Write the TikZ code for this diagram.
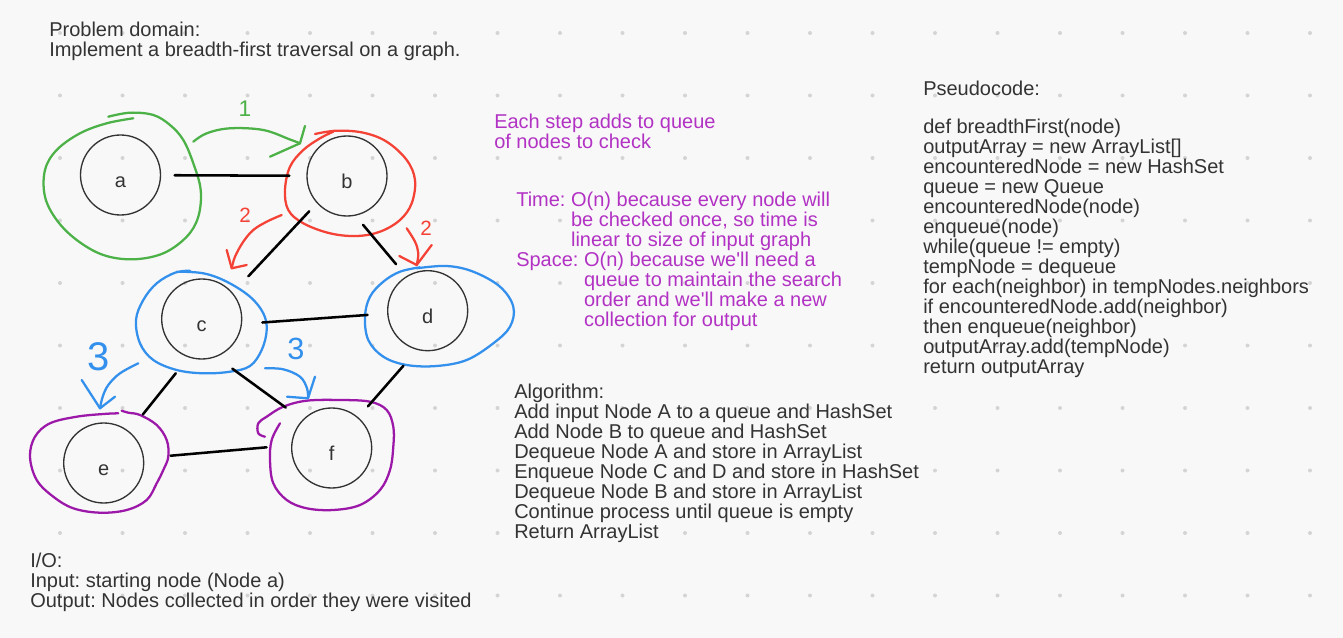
\documentclass[tikz,border=0pt]{standalone}
\usepackage{fontspec}
\setmainfont{Liberation Sans}[Ligatures=TeXOff]
\frenchspacing
\definecolor{bgc}{RGB}{248,248,248}
\definecolor{dotc}{RGB}{212,212,212}
\definecolor{ink}{RGB}{51,51,51}
\definecolor{ptext}{RGB}{178,50,196}
\definecolor{hgreen}{RGB}{76,178,72}
\definecolor{hred}{RGB}{244,67,54}
\definecolor{hblue}{RGB}{51,144,236}
\definecolor{hpurple}{RGB}{156,24,168}
\begin{document}
\begin{tikzpicture}[x=0.75pt,y=-0.75pt,
  txt/.style={anchor=north west, inner sep=0pt, align=left, text=ink, font=\fontsize{15}{15}\selectfont},
  ptxt/.style={txt, text=ptext},
  vert/.style={circle, draw=ink, line width=1pt, minimum size=60pt, inner sep=0pt, text=ink,
    font=\fontsize{15}{15}\selectfont, text height=18.75pt, text depth=0pt},
  conn/.style={draw=black, line width=1.9pt, line cap=round},
  hand/.style={line width=1.7pt, line cap=round, line join=round},
  digit/.style={inner sep=0pt}]
\fill[bgc] (0,0) rectangle (1343,638);
\useasboundingbox (0,0) rectangle (1343,638);
% dotted grid
\foreach \i in {0,...,21}{
  \foreach \j in {0,...,9}{
    \fill[dotc] ({-2.5+62.5*\i},{33+62.5*\j}) circle[radius=1.5pt];
  }
}
% hand-drawn loops
\draw[hand, hgreen] plot[smooth, tension=0.6] coordinates {(108.3,116.7) (130,112.7) (153.3,115) (170,125) (183.3,140) (193.3,163.3) (200.7,190) (198.3,216.7) (186.7,236.7) (163.3,253.3) (133.3,259.3) (103.3,255) (76.7,240) (56.7,220) (45,196.7) (45,170) (56.7,150) (80,133.3) (106.7,123.3) (133.3,118.3)};
\draw[hand, hred] plot[smooth, tension=0.6] coordinates {(315,134) (336.7,130.7) (363.3,132.7) (386.7,141.7) (406.7,160) (415,180) (411.7,203.3) (400,220) (380,231.7) (356.7,236) (330,233.3) (303.3,223.3) (288.3,210) (285,190) (290,166.7) (303.3,150) (320,138.3) (333.3,131.7)};
\draw[hand, hblue] plot[smooth, tension=0.6] coordinates {(176.7,271.7) (203.3,273.3) (226.7,281.7) (250,296.7) (263.3,313.3) (266.7,330) (261.7,350) (250,366) (230,371.7) (203.3,373.3) (176.7,370) (153.3,360) (140,343.3) (136,320) (143.3,300) (156.7,283.3) (175,272.7) (190,270.7)};
\draw[hand, hblue] plot[smooth, tension=0.6] coordinates {(416.7,268.3) (446.7,266) (473.3,271.7) (500,286.7) (513.3,306.7) (510,326.7) (493.3,343.3) (466.7,360) (436.7,366) (406.7,365) (383.3,356.7) (368.3,340) (365,316.7) (370,296.7) (383.3,281.7) (400,271.7) (420,267.3)};
\draw[hand, hpurple] plot[smooth, tension=0.6] coordinates {(121.7,410.7) (128.3,412.7) (140,415) (156.7,425) (166.7,440) (168.3,456.7) (163.3,470) (156.7,483.3) (146.7,500) (126.7,510) (100,512.7) (73.3,508.3) (53.3,496.7) (36.7,480) (30,456.7) (35,436.7) (50,423.3) (76.7,416.7) (103.3,414) (118.3,413.3)};
\draw[hand, hpurple] plot[smooth, tension=0.6] coordinates {(265,436.7) (258.3,433.3) (258.3,423.3) (266.7,416.7) (283.3,406.7) (306.7,400.7) (340,400) (370,401.7) (386.7,410) (393.3,426.7) (393.3,446.7) (390,470) (380,490) (360,505) (333.3,510) (306.7,508.3) (286.7,500) (273.3,483.3) (270,460) (271.7,440) (280,423.3)};
% graph nodes
\node[vert] (a) at (120.5,175) {a};
\node[vert] (b) at (347,176) {b};
\node[vert] (c) at (201.7,319) {c};
\node[vert] (d) at (427.7,310.7) {d};
\node[vert] (e) at (103.7,463) {e};
\node[vert] (f) at (331.7,448) {f};
% edges
\draw[conn, shorten <=10.1pt, shorten >=12.75pt] (a) -- (b);
\draw[conn, shorten <=8.2pt, shorten >=17pt] (b.222.6) -- (c.40.3);
\draw[conn, shorten <=8.9pt, shorten >=11.8pt] (b.-78.7) -- (d.122.9);
\draw[conn, shorten <=15.3pt, shorten >=14.7pt] (c.-7.5) -- (d.184.2);
\draw[conn, shorten <=15.2pt, shorten >=16.2pt] (c.-109.1) -- (e.51.1);
\draw[conn, shorten <=14.9pt, shorten >=15.5pt] (c.-69.5) -- (f.136.6);
\draw[conn, shorten <=15.7pt, shorten >=10.9pt] (d.-105.7) -- (f.49.3);
\draw[conn, shorten <=20pt, shorten >=18.5pt] (e.7.2) -- (f.176);
% traversal arrows
\coordinate (t1) at (300,143.3);
\coordinate (t2) at (231.7,268.3);
\coordinate (t3) at (416.7,265);
\coordinate (t4) at (100,408.3);
\coordinate (t5) at (308,398.3);
\draw[hand, hgreen] plot[smooth, tension=0.6] coordinates {(193.3,141.7) (206.7,133.3) (230,128.3) (263.3,130) (290,139.5) (300,143.3)};
\draw[hand, hgreen] (305,126) -- (t1) -- (270,156.7);
\draw[hand, hred] plot[smooth, tension=0.6] coordinates {(281.7,215) (266.7,221.7) (253.3,230) (243.3,241.7) (235,256.7) (231.7,268.3)};
\draw[hand, hred] (226.7,250) -- (t2) -- (246.7,265);
\draw[hand, hred] plot[smooth, tension=0.6] coordinates {(406.7,228.3) (415,241.7) (418.3,253.3) (416.7,265)};
\draw[hand, hred] (399.3,256) -- (t3) -- (431.7,245);
\draw[hand, hblue] plot[smooth, tension=0.6] coordinates {(138.3,363.3) (120,373.3) (108.3,385) (102.7,396.7) (100,408.3)};
\draw[hand, hblue] (81.7,380) -- (t4) -- (115,396.7);
\draw[hand, hblue] plot[smooth, tension=0.6] coordinates {(265,368.3) (283.3,369.3) (300,376.7) (307,388.3) (308,398.3)};
\draw[hand, hblue] (315,376.7) -- (t5) -- (287,396.7);
% step numbers
\node[digit, text=hgreen, font=\fontsize{17}{17}\selectfont] (n1) at (245,108.5) {1};
\node[digit, text=hred, font=\fontsize{15.5}{15.5}\selectfont] (n2a) at (245,215.5) {2};
\node[digit, text=hred, font=\fontsize{15.5}{15.5}\selectfont] (n2b) at (426,228) {2};
\node[digit, text=hblue, font=\fontsize{30}{30}\selectfont] (n3a) at (99,357) {3};
\node[digit, text=hblue, font=\fontsize{23}{23}\selectfont] (n3b) at (296,349) {3};
% texts
\node[txt] (problem) at (49,21.5) {Problem domain:\\Implement a breadth-first traversal on a graph.};
\node[ptxt] (steps) at (494,114) {Each step adds to queue\\of nodes to check};
\node[ptxt] (complexity) at (516,191.7) {Time: O(n) because every node will\\
\hphantom{Time: }be checked once, so time is\\
\hphantom{Time: }linear to size of input graph\\
Space: O(n) because we'll need a\\
\hphantom{Space: }queue to maintain the search\\
\hphantom{Space: }order and we'll make a new\\
\hphantom{Space: }collection for output};
\node[txt] (algo) at (514,384) {Algorithm:\\Add input Node A to a queue and HashSet\\Add Node B to queue and HashSet\\Dequeue Node A and store in ArrayList\\Enqueue Node C and D and store in HashSet\\Dequeue Node B and store in ArrayList\\Continue process until queue is empty\\Return ArrayList};
\node[txt] (io) at (30,553) {I/O:\\Input: starting node (Node a)\\Output: Nodes collected in order they were visited};
\node[txt] (pseudotitle) at (923,80.7) {Pseudocode:};
\node[txt] (pseudo) at (923,119) {def breadthFirst(node)\\outputArray = new ArrayList[]\\encounteredNode = new HashSet\\queue = new Queue\\encounteredNode(node)\\enqueue(node)\\while(queue != empty)\\tempNode = dequeue\\for each(neighbor) in tempNodes.neighbors\\if encounteredNode.add(neighbor)\\then enqueue(neighbor)\\outputArray.add(tempNode)\\return outputArray};
\end{tikzpicture}
\end{document}
